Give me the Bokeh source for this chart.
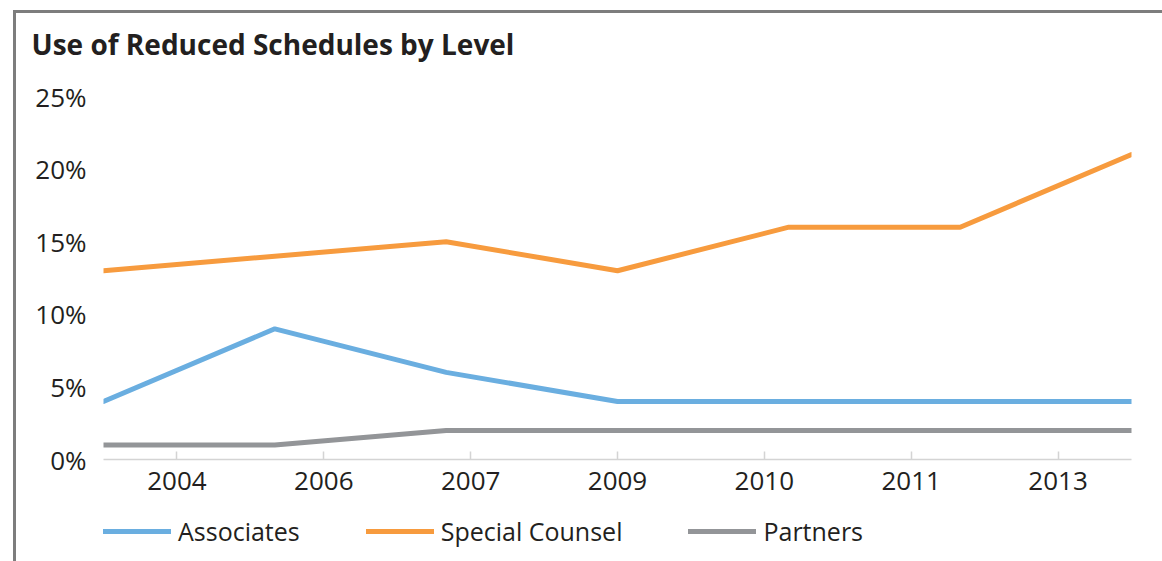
from bokeh.plotting import figure
from bokeh.layouts import column
from bokeh.models import (Range1d, LinearAxis, FixedTicker, Title,
                          PrintfTickFormatter, Legend, LegendItem)
from bokeh.embed import file_html
from bokeh.resources import INLINE

# ---- data ----
years = ["2004", "2006", "2007", "2009", "2010", "2011", "2013"]
associates = [4, 9, 6, 4, 4, 4, 4]
special_counsel = [13, 14, 15, 13, 16, 16, 21]
partners = [1, 1, 2, 2, 2, 2, 2]
series_names = ["Associates", "Special Counsel", "Partners"]
series_colors = ["#6aaee0", "#f79b3e", "#939598"]
y_ticks = [0, 5, 10, 15, 20, 25]
title_text = "Use of Reduced Schedules by Level"

FONT = "Open Sans"
TXT = "#231f20"

idx = list(range(len(years)))
cat_ticks = [i + 0.5 for i in idx]
series = [associates, special_counsel, partners]

p = figure(width=1146, height=495, output_backend="svg", toolbar_location=None,
           x_range=Range1d(0, len(years) - 1), y_range=Range1d(0, 25),
           x_axis_location=None, min_border_left=87, min_border_right=31,
           min_border_top=83, min_border_bottom=49)
p.outline_line_color = None
p.xgrid.visible = False
p.ygrid.visible = False

# spacer (nearest the frame), then the real title above it
p.add_layout(Title(text=" ", text_font=FONT, text_font_size="10px", standoff=9), "above")
p.add_layout(Title(text=title_text, text_font=FONT, text_font_size="28px",
                   text_font_style="bold", text_color=TXT, align="left",
                   offset=-72, standoff=18), "above")

p.extra_x_ranges = {"cats": Range1d(0, len(years))}
xa = LinearAxis(x_range_name="cats")
xa.ticker = FixedTicker(ticks=cat_ticks, minor_ticks=[])
xa.major_label_overrides = dict(zip(cat_ticks, years))
xa.axis_line_color = "#d4d4d4"
xa.axis_line_width = 1.5
xa.major_tick_line_color = "#d4d4d4"
xa.major_tick_line_width = 1.5
xa.major_tick_in = 8
xa.major_tick_out = 0
xa.minor_tick_line_color = None
xa.major_label_text_font = FONT
xa.major_label_text_font_size = "26px"
xa.major_label_text_color = TXT
xa.major_label_standoff = 12
p.add_layout(xa, "below")

ya = p.yaxis[0]
ya.ticker = FixedTicker(ticks=y_ticks)
ya.formatter = PrintfTickFormatter(format="%d%%")
ya.axis_line_color = None
ya.major_tick_line_color = None
ya.minor_tick_line_color = None
ya.major_label_text_font = FONT
ya.major_label_text_font_size = "26px"
ya.major_label_text_color = TXT
ya.major_label_standoff = 11

for vals, col in zip(series, series_colors):
    p.line(idx, vals, line_color=col, line_width=5, line_cap="round")

# legend strip (separate small figure so the legend is not clipped);
# its y range is set away from the data so only the legend keys show
p2 = figure(width=1146, height=53, output_backend="svg", toolbar_location=None,
            x_range=Range1d(0, len(years) - 1), y_range=Range1d(-30, -25),
            x_axis_location=None, y_axis_location=None,
            min_border_left=87, min_border_right=31,
            min_border_top=0, min_border_bottom=0)
p2.outline_line_color = None
p2.xgrid.visible = False
p2.ygrid.visible = False
items = []
for vals, col, name in zip(series, series_colors, series_names):
    r = p2.line(idx, vals, line_color=col, line_width=5, line_cap="round")
    items.append(LegendItem(label=name, renderers=[r]))

legend = Legend(items=items, orientation="horizontal", location=(0, 13),
                border_line_color=None, background_fill_alpha=0,
                margin=0, padding=0, spacing=66, label_standoff=7,
                glyph_width=68, glyph_height=30,
                label_text_font=FONT, label_text_font_size="25px",
                label_text_color=TXT)
p2.add_layout(legend, "center")

layout = column(p, p2, spacing=0,
                styles={"border-left": "3px solid #7d7d7d", "border-top": "3px solid #7d7d7d",
                        "margin-left": "13px", "margin-top": "10px"})

open("out.html", "w").write(file_html(layout, INLINE))
